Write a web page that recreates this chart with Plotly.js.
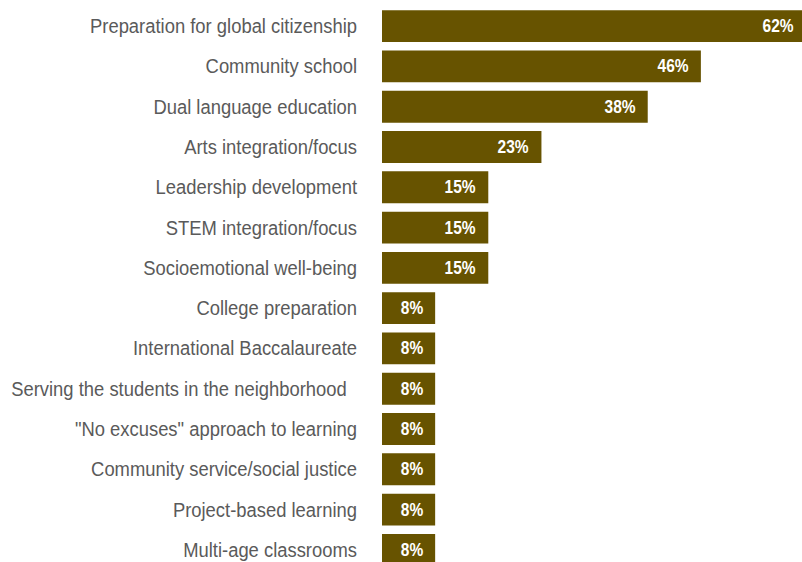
<!DOCTYPE html>
<html>
<head>
<meta charset="utf-8">
<script src="https://cdn.plot.ly/plotly-3.0.1.min.js"></script>
<style>
html,body{margin:0;padding:0;overflow:hidden;background:#fff;width:802px;height:562px;}
#chart{width:812px;height:570px;}
</style>
</head>
<body>
<div id="chart"></div>
<script>
const categories = [
  "Preparation for global citizenship",
  "Community school",
  "Dual language education",
  "Arts integration/focus",
  "Leadership development",
  "STEM integration/focus",
  "Socioemotional well-being",
  "College preparation",
  "International Baccalaureate",
  "Serving the students in the neighborhood\u00a0\u00a0",
  "\"No excuses\" approach to learning",
  "Community service/social justice",
  "Project-based learning",
  "Multi-age classrooms"
];
const values = [61.5, 46.2, 38.5, 23.1, 15.4, 15.4, 15.4, 7.7, 7.7, 7.7, 7.7, 7.7, 7.7, 7.7];
const valueLabels = ["62%", "46%", "38%", "23%", "15%", "15%", "15%", "8%", "8%", "8%", "8%", "8%", "8%", "8%"];

const trace = {
  type: "bar",
  orientation: "h",
  x: values,
  y: categories,
  width: 0.79,
  marker: {color: "#675300"},
  hoverinfo: "none"
};

const annotations = categories.map((c, i) => ({
  x: values[i], y: c, xref: "x", yref: "y",
  text: valueLabels[i], showarrow: false,
  xanchor: "right", yanchor: "middle", xshift: -8,
  font: {family: "Liberation Sans, Arial, sans-serif", size: 18, color: "#ffffff", weight: "bold"}
}));

const layout = {
  width: 812, height: 570,
  margin: {l: 382, r: 0, t: 6, b: 0, pad: 0},
  paper_bgcolor: "#ffffff",
  plot_bgcolor: "#ffffff",
  showlegend: false,
  bargap: 0.21,
  xaxis: {range: [0, 62.3], visible: false, fixedrange: true},
  yaxis: {
    type: "category",
    autorange: "reversed",
    showgrid: false, zeroline: false, showline: false, ticks: "",
    ticklabelstandoff: 24,
    tickfont: {family: "Liberation Sans, Arial, sans-serif", size: 20, color: "#5a5a5a"}
  },
  annotations: annotations
};

function condense(nodes, f) {
  nodes.forEach(function (t) {
    var len = t.getComputedTextLength();
    t.setAttribute("textLength", (len * f).toFixed(1));
    t.setAttribute("lengthAdjust", "spacingAndGlyphs");
  });
}

Plotly.newPlot("chart", [trace], layout, {displayModeBar: false, staticPlot: true}).then(function (gd) {
  // condense glyphs horizontally to mimic the narrow typeface of the reference
  condense(gd.querySelectorAll(".ytick text"), 0.92);
  condense(gd.querySelectorAll(".annotation-text"), 0.86);
});
</script>
</body>
</html>
